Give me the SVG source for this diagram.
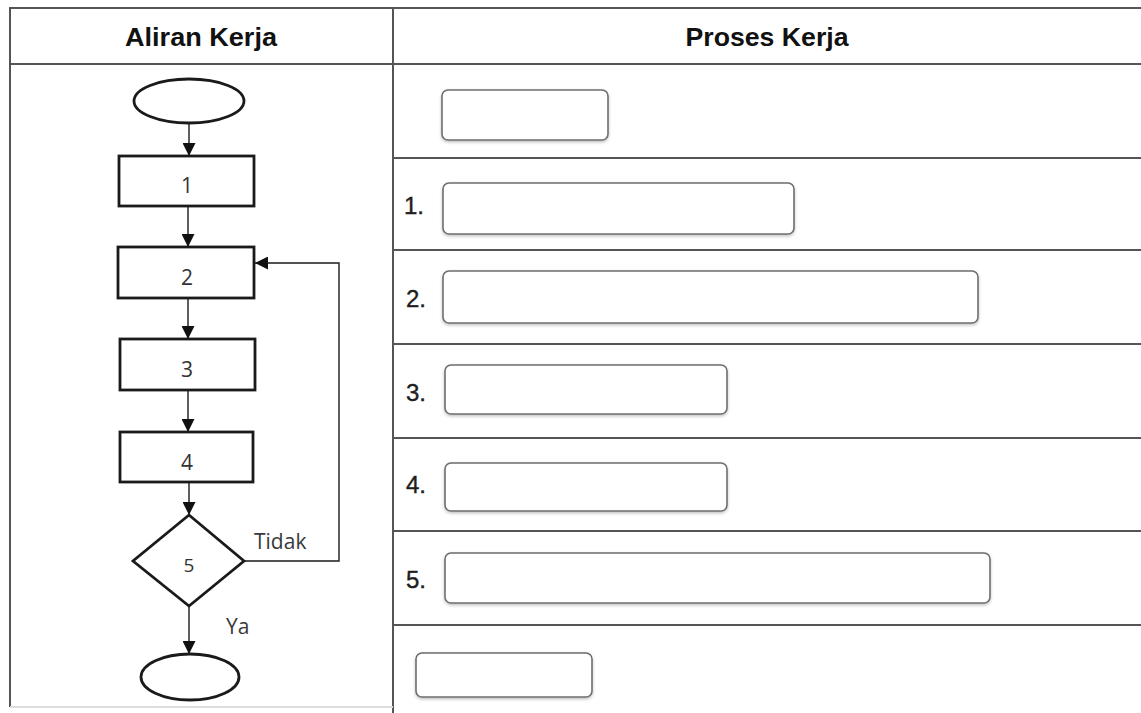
<svg xmlns="http://www.w3.org/2000/svg" width="1141" height="713" viewBox="0 0 1141 713">
<defs>
<style>
.grid{stroke:#555;stroke-width:2;fill:none}
.hdr{font-family:"Liberation Sans",Arial,sans-serif;font-weight:bold;font-size:26px;fill:#111;text-anchor:middle}
.shape{fill:#fff;stroke:#1a1a1a;stroke-width:2.8}
.num{font-family:"Open Sans","DejaVu Sans",sans-serif;font-size:21px;fill:#333;text-anchor:middle}
.lbl{font-family:"Open Sans","DejaVu Sans",sans-serif;font-size:21px;fill:#3a3a3a}
.conn{stroke:#1a1a1a;stroke-width:1.4;fill:none}
.field{fill:#fff;stroke:#6e6e6e;stroke-width:1.6;filter:url(#sh)}
.rowno{font-family:"Liberation Sans",Arial,sans-serif;font-size:24px;fill:#1e1e1e;stroke:#1e1e1e;stroke-width:0.4}
</style>
<marker id="ahL" viewBox="0 0 12 12" refX="12" refY="6" markerWidth="13" markerHeight="13" markerUnits="userSpaceOnUse" orient="auto">
<path d="M0,0 L12,6 L0,12 Z" fill="#111"/>
</marker>
<filter id="sh" x="-5%" y="-20%" width="110%" height="150%">
<feDropShadow dx="0" dy="1.5" stdDeviation="1.5" flood-color="#000" flood-opacity="0.25"/>
</filter>
</defs>
<rect width="1141" height="713" fill="#fff"/>

<g id="table">
<line class="grid" x1="10" y1="8" x2="1141" y2="8"/>
<line class="grid" x1="10" y1="64" x2="1141" y2="64"/>
<line class="grid" x1="10" y1="7" x2="10" y2="707"/>
<line class="grid" x1="393" y1="7" x2="393" y2="713"/>
<line class="grid" x1="393" y1="158" x2="1141" y2="158"/>
<line class="grid" x1="393" y1="250" x2="1141" y2="250"/>
<line class="grid" x1="393" y1="344" x2="1141" y2="344"/>
<line class="grid" x1="393" y1="438" x2="1141" y2="438"/>
<line class="grid" x1="393" y1="531" x2="1141" y2="531"/>
<line class="grid" x1="393" y1="625" x2="1141" y2="625"/>
<line x1="10" y1="707" x2="393" y2="707" stroke="#ddd" stroke-width="2"/>
<text class="hdr" x="201" y="46" textLength="152" lengthAdjust="spacingAndGlyphs">Aliran Kerja</text>
<text class="hdr" x="767" y="46" textLength="163" lengthAdjust="spacingAndGlyphs">Proses Kerja</text>
</g>

<g id="connectors">
<line class="conn" x1="189" y1="123" x2="189" y2="156" marker-end="url(#ahL)"/>
<line class="conn" x1="188" y1="206" x2="188" y2="247" marker-end="url(#ahL)"/>
<line class="conn" x1="188" y1="298" x2="188" y2="339" marker-end="url(#ahL)"/>
<line class="conn" x1="188" y1="390" x2="188" y2="432" marker-end="url(#ahL)"/>
<line class="conn" x1="189" y1="482" x2="189" y2="515" marker-end="url(#ahL)"/>
<line class="conn" x1="189" y1="606" x2="189" y2="654" marker-end="url(#ahL)"/>
<polyline class="conn" points="244,561 339,561 339,263 255,263" marker-end="url(#ahL)"/>
<text class="lbl" x="254" y="549">Tidak</text>
<text class="lbl" x="226" y="634">Ya</text>
</g>

<g id="start"><ellipse class="shape" cx="189" cy="101" rx="55" ry="22"/></g>
<g id="step1"><rect class="shape" x="119" y="156" width="135" height="50"/><text class="num" x="187" y="193">1</text></g>
<g id="step2"><rect class="shape" x="118" y="247" width="136" height="51"/><text class="num" x="187" y="285">2</text></g>
<g id="step3"><rect class="shape" x="120" y="339" width="135" height="51"/><text class="num" x="187" y="377">3</text></g>
<g id="step4"><rect class="shape" x="120" y="432" width="133" height="50"/><text class="num" x="187" y="470">4</text></g>
<g id="decision5"><polygon class="shape" points="189,515 244,561 189,606 133,561"/><text class="num" x="189" y="572" style="font-size:19px">5</text></g>
<g id="end"><ellipse class="shape" cx="190" cy="677" rx="49" ry="23"/></g>

<g id="field0"><rect class="field" x="442" y="90" width="166" height="50" rx="6"/></g>
<g id="field1"><text class="rowno" x="404" y="214">1.</text><rect class="field" x="443" y="183" width="351" height="51" rx="6"/></g>
<g id="field2"><text class="rowno" x="406" y="307">2.</text><rect class="field" x="443" y="271" width="535" height="52" rx="6"/></g>
<g id="field3"><text class="rowno" x="406" y="401">3.</text><rect class="field" x="445" y="365" width="282" height="49" rx="6"/></g>
<g id="field4"><text class="rowno" x="406" y="493">4.</text><rect class="field" x="445" y="463" width="282" height="48" rx="6"/></g>
<g id="field5"><text class="rowno" x="406" y="588">5.</text><rect class="field" x="445" y="553" width="545" height="50" rx="6"/></g>
<g id="field6"><rect class="field" x="416" y="653" width="176" height="44" rx="6"/></g>
</svg>
